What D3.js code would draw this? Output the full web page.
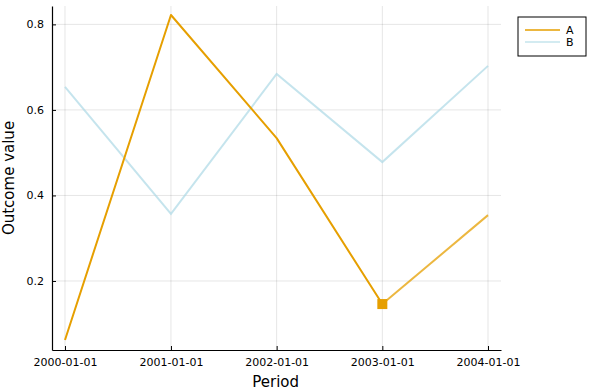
<!DOCTYPE html>
<html>
<head>
<meta charset="utf-8">
<script src="https://cdn.jsdelivr.net/npm/d3@7"></script>
<style>
  body { margin: 0; background: #fff; }
  svg { font-family: "DejaVu Sans", sans-serif; }
</style>
</head>
<body>
<div id="chart"></div>
<script>
const periods = ['2000-01-01', '2001-01-01', '2002-01-01', '2003-01-01', '2004-01-01'];
const seriesA = [0.062, 0.822, 0.534, 0.146, 0.354];
const seriesB = [0.654, 0.357, 0.684, 0.478, 0.703];
const yTicks = [0.2, 0.4, 0.6, 0.8];
const seriesNames = ['A', 'B'];

const svgWidth = 591, svgHeight = 392;
const margin = {top: 6, right: 90, bottom: 42, left: 52};
const innerWidth = svgWidth - margin.left - margin.right;
const innerHeight = svgHeight - margin.top - margin.bottom;

const parseDate = d3.timeParse('%Y-%m-%d');
const dates = periods.map(parseDate);

const svg = d3.select('#chart').append('svg')
    .attr('width', svgWidth)
    .attr('height', svgHeight);

const g = svg.append('g')
    .attr('transform', `translate(${margin.left}, ${margin.top})`);

// pad the time domain a little on each side, like the original
const padMs = (dates[4] - dates[0]) * 0.0307;
const xScale = d3.scaleTime()
    .domain([new Date(+dates[0] - padMs), new Date(+dates[4] + padMs)])
    .range([0, innerWidth]);

const yScale = d3.scaleLinear()
    .domain([0.0386, 0.843])
    .range([innerHeight, 0]);

// grid
g.append('g').selectAll('line')
    .data(dates)
    .enter().append('line')
    .attr('x1', d => xScale(d)).attr('x2', d => xScale(d))
    .attr('y1', 0).attr('y2', innerHeight)
    .attr('stroke', '#000').attr('stroke-opacity', 0.1).attr('stroke-width', 1);

g.append('g').selectAll('line')
    .data(yTicks)
    .enter().append('line')
    .attr('x1', 0).attr('x2', innerWidth)
    .attr('y1', d => yScale(d)).attr('y2', d => yScale(d))
    .attr('stroke', '#000').attr('stroke-opacity', 0.1).attr('stroke-width', 1);

// axes
const xAxis = d3.axisBottom(xScale)
    .tickValues(dates)
    .tickFormat(d3.timeFormat('%Y-%m-%d'))
    .tickSizeInner(-4).tickSizeOuter(0).tickPadding(8);

const yAxis = d3.axisLeft(yScale)
    .tickValues(yTicks)
    .tickFormat(d3.format('.1f'))
    .tickSizeInner(-4).tickSizeOuter(0).tickPadding(8);

const xAxisGroup = g.append('g')
    .attr('transform', `translate(0, ${innerHeight})`)
    .call(xAxis);
const yAxisGroup = g.append('g').call(yAxis);

[xAxisGroup, yAxisGroup].forEach(ax => {
    ax.select('.domain').attr('stroke', '#000').attr('stroke-width', 1.2);
    ax.selectAll('.tick line').attr('stroke', '#000');
    ax.selectAll('.tick text').attr('font-size', 11).attr('fill', '#000')
      .attr('font-family', '"DejaVu Sans", sans-serif');
});

// axis labels
svg.append('text')
    .attr('x', margin.left + xScale(dates[2]) - 1)
    .attr('y', 387)
    .attr('text-anchor', 'middle')
    .attr('font-size', 15)
    .text('Period');

svg.append('text')
    .attr('transform', `translate(14, ${margin.top + innerHeight / 2}) rotate(-90)`)
    .attr('text-anchor', 'middle')
    .attr('font-size', 15)
    .text('Outcome value');

const line = d3.line()
    .x(d => xScale(d[0]))
    .y(d => yScale(d[1]));

const ptsA = dates.map((d, i) => [d, seriesA[i]]);
const ptsB = dates.map((d, i) => [d, seriesB[i]]);

// B
g.append('path')
    .datum(ptsB)
    .attr('fill', 'none')
    .attr('stroke', '#add8e6')
    .attr('stroke-opacity', 0.7)
    .attr('stroke-width', 2)
    .attr('d', line);

// A: solid up to 2003, lighter last segment
g.append('path')
    .datum(ptsA.slice(0, 4))
    .attr('fill', 'none')
    .attr('stroke', '#e69f00')
    .attr('stroke-width', 2)
    .attr('stroke-linejoin', 'round')
    .attr('d', line);

g.append('path')
    .datum(ptsA.slice(3))
    .attr('fill', 'none')
    .attr('stroke', '#e69f00')
    .attr('stroke-opacity', 0.75)
    .attr('stroke-width', 2)
    .attr('d', line);

// marker at 2003
g.append('rect')
    .attr('x', xScale(dates[3]) - 5)
    .attr('y', yScale(seriesA[3]) - 5)
    .attr('width', 10).attr('height', 10)
    .attr('fill', '#e69f00');

// legend
const legend = svg.append('g').attr('transform', 'translate(518, 17)');
legend.append('rect')
    .attr('width', 68).attr('height', 39)
    .attr('fill', '#fff').attr('stroke', '#000').attr('stroke-width', 1);

const legendColors = ['#e69f00', '#add8e6'];
seriesNames.forEach((name, i) => {
    legend.append('line')
        .attr('x1', 7).attr('x2', 42)
        .attr('y1', 13 + i * 12).attr('y2', 13 + i * 12)
        .attr('stroke', legendColors[i])
        .attr('stroke-opacity', i === 1 ? 0.7 : 1)
        .attr('stroke-width', 1.5);
    legend.append('text')
        .attr('x', 48).attr('y', 17 + i * 12)
        .attr('font-size', 11)
        .text(name);
});
</script>
</body>
</html>
